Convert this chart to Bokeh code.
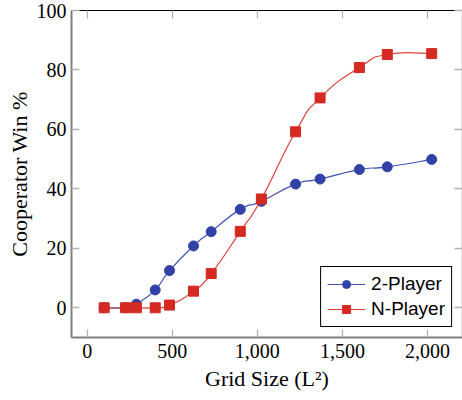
from bokeh.plotting import figure
from bokeh.models import (Range1d, LinearAxis, NumeralTickFormatter, FixedTicker, Legend,
                          LegendItem, CustomJSTickFormatter)
from bokeh.embed import file_html
from bokeh.resources import INLINE

grid_size = [100, 225, 289, 400, 484, 625, 729, 900, 1024, 1225, 1369, 1600, 1764, 2025]
two_player = [0, 0, 1.2, 6.0, 12.5, 20.8, 25.6, 33.1, 35.8, 41.6, 43.3, 46.5, 47.4, 49.9]
n_player = [0, 0, 0, 0, 0.9, 5.6, 11.5, 25.7, 36.6, 59.2, 70.6, 80.8, 85.2, 85.5]
x_ticks = [0, 500, 1000, 1500, 2000]
y_ticks = [0, 20, 40, 60, 80, 100]


def smooth_segments(xs, ys, f=0.275):
    n = len(xs)
    tx, ty = [], []
    for i in range(n):
        a = max(i - 1, 0)
        b = min(i + 1, n - 1)
        tx.append((xs[b] - xs[a]) * f)
        ty.append((ys[b] - ys[a]) * f)
    seg = dict(x0=[], y0=[], x1=[], y1=[], cx0=[], cy0=[], cx1=[], cy1=[])
    for i in range(n - 1):
        seg["x0"].append(xs[i]); seg["y0"].append(ys[i])
        seg["x1"].append(xs[i + 1]); seg["y1"].append(ys[i + 1])
        seg["cx0"].append(xs[i] + tx[i]); seg["cy0"].append(ys[i] + ty[i])
        seg["cx1"].append(xs[i + 1] - tx[i + 1]); seg["cy1"].append(ys[i + 1] - ty[i + 1])
    return seg


SERIF = "Liberation Serif"

p = figure(width=462, height=400, output_backend="svg", toolbar_location=None,
           x_range=Range1d(-92, 2206), y_range=Range1d(-10, 100),
           min_border_left=71, min_border_right=0, min_border_top=10, min_border_bottom=63,
           x_axis_label="Grid Size (L²)", y_axis_label="Cooperator Win %")
p.grid.visible = False
p.outline_line_color = None
p.background_fill_color = "white"
p.border_fill_color = "white"

p.xaxis.ticker = FixedTicker(ticks=x_ticks)
p.yaxis.ticker = FixedTicker(ticks=y_ticks)
p.xaxis.formatter = NumeralTickFormatter(format="0,0")

for ax in (p.xaxis[0], p.yaxis[0]):
    ax.axis_line_color = "#808080"
    ax.axis_line_width = 2
    ax.major_tick_line_color = "#b3b3b3"
    ax.major_tick_line_width = 1.3
    ax.major_tick_in = 8
    ax.major_tick_out = 0
    ax.minor_tick_line_color = None
    ax.major_label_text_font = SERIF
    ax.major_label_text_font_size = "20px"
    ax.major_label_text_color = "black"
    ax.axis_label_text_font = SERIF
    ax.axis_label_text_font_size = "22px"
    ax.axis_label_text_font_style = "normal"
    ax.axis_label_text_color = "black"

p.yaxis.major_label_standoff = 5
p.yaxis.axis_label_standoff = 2
p.xaxis.major_label_standoff = 6
p.xaxis.axis_label_standoff = 5

for loc, ticks in (("above", x_ticks), ("right", y_ticks)):
    ax = LinearAxis(ticker=FixedTicker(ticks=ticks), axis_line_color="black", axis_line_width=1.2,
                    formatter=CustomJSTickFormatter(code="return ''"),
                    major_label_text_font_size="1px", major_label_standoff=0,
                    major_tick_in=8, major_tick_out=0, major_tick_line_color="#b3b3b3",
                    major_tick_line_width=1.3, minor_tick_line_color=None)
    p.add_layout(ax, loc)

blue_line = "#4253b3"
blue_fill = "#3141a8"
red_line = "#e0403a"
red_fill = "#d42a22"

bseg = smooth_segments(grid_size, two_player)
b_curve = p.bezier(line_color=blue_line, line_width=1.2, **bseg)
b_pts = p.scatter(grid_size, two_player, marker="circle", size=10,
                  fill_color=blue_fill, line_color=blue_fill)

rseg = smooth_segments(grid_size, n_player)
r_curve = p.bezier(line_color=red_line, line_width=1.2, **rseg)
r_pts = p.scatter(grid_size, n_player, marker="square", size=10,
                  fill_color=red_fill, line_color=red_fill)

legend = Legend(items=[LegendItem(label="2-Player", renderers=[b_curve, b_pts]),
                       LegendItem(label="N-Player", renderers=[r_curve, r_pts])],
                location="bottom_right", label_text_font="Liberation Sans",
                label_text_font_size="19px", label_text_color="black",
                border_line_color="black", border_line_width=1,
                border_line_alpha=1, background_fill_alpha=1,
                glyph_width=38, glyph_height=20, label_height=20, spacing=3,
                padding=6, margin=10, label_standoff=6)
p.add_layout(legend)

open("out.html", "w").write(file_html(p, INLINE))
